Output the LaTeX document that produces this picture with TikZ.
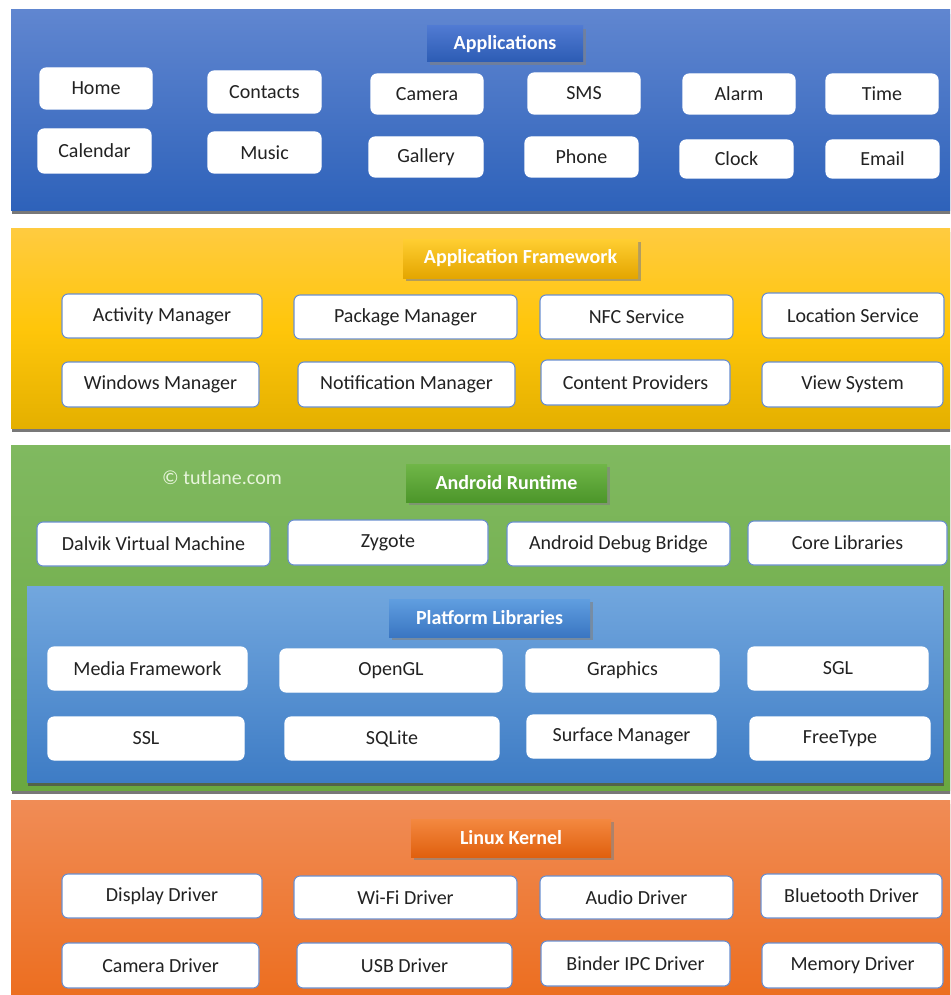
\documentclass[tikz,border=0pt]{standalone}
\usepackage{fontspec}
\setmainfont{Carlito}
\usetikzlibrary{shadows}
\definecolor{bdr}{HTML}{6A8FD0}
\definecolor{txt}{HTML}{222222}
\tikzset{
  wbox/.style={draw=bdr, line width=1.1pt, fill=white, rounded corners=6pt, inner sep=0pt, font=\fontsize{20}{23}\selectfont, text=txt},
  nbox/.style={wbox, draw=white},
  sect/.style={draw=none, drop shadow={opacity=0.75, fill=black!70, shadow xshift=1pt, shadow yshift=-4pt}},
  ttl/.style={draw=none, inner sep=0pt, text=white, font=\fontsize{20}{23}\selectfont\bfseries, drop shadow={opacity=0.6, shadow xshift=3pt, shadow yshift=-3pt}}
}
\newcommand\abox[7][wbox]{\node[#1,minimum width={(#5-#3)*1pt},minimum height={(#6-#4)*1pt}] (#2) at ({(#3+#5)/2},{(#4+#6)/2}) {#7};}
\newcommand\attl[8]{\node[ttl,top color=#7,bottom color=#8,minimum width={(#4-#2)*1pt},minimum height={(#5-#3)*1pt}] (#1) at ({(#2+#4)/2},{(#3+#5)/2}) {#6};}
\begin{document}
\begin{tikzpicture}[x=1pt,y=-1pt]
\clip (0,0) rectangle (950,995);
\fill[white] (0,0) rectangle (950,995);
% ---------- Applications
\shade[sect, top color={rgb,255:red,96;green,134;blue,208}, bottom color={rgb,255:red,46;green,98;blue,186}] (11,10) rectangle (960,210);
\attl{tapp}{427}{26}{583}{62}{Applications}{{rgb,255:red,80;green,122;blue,210}}{{rgb,255:red,44;green,92;blue,180}}
\abox[nbox]{home}{40}{68}{152}{109}{Home}
\abox[nbox]{contacts}{208}{71}{321}{113}{Contacts}
\abox[nbox]{camera}{371}{74}{483}{114}{Camera}
\abox[nbox]{sms}{528}{73}{640}{114}{SMS}
\abox[nbox]{alarm}{683}{74}{795}{114}{Alarm}
\abox[nbox]{time}{826}{74}{938}{114}{Time}
\abox[nbox]{calendar}{38}{129}{151}{173}{Calendar}
\abox[nbox]{music}{208}{132}{321}{173}{Music}
\abox[nbox]{gallery}{369}{137}{483}{177}{Gallery}
\abox[nbox]{phone}{525}{137}{638}{177}{Phone}
\abox[nbox]{clock}{680}{140}{793}{178}{Clock}
\abox[nbox]{email}{826}{140}{939}{178}{Email}
% ---------- Application Framework
\shade[sect, top color={rgb,255:red,255;green,203;blue,64}, bottom color={rgb,255:red,228;green,176;blue,0}, middle color={rgb,255:red,255;green,198;blue,10}] (11,228) rectangle (960,428);
\attl{tfw}{403}{239}{638}{278}{Application Framework}{{rgb,255:red,255;green,206;blue,50}}{{rgb,255:red,228;green,166;blue,0}}
\abox{am}{62}{294}{262}{338}{Activity Manager}
\abox{pm}{294}{295}{517}{339}{Package Manager}
\abox{nfc}{540}{295}{733}{339}{NFC Service}
\abox{ls}{762}{293}{944}{338}{Location Service}
\abox{wm}{62}{362}{259}{407}{Windows Manager}
\abox{nm}{298}{362}{515}{407}{Notification Manager}
\abox{cp}{541}{360}{730}{405}{Content Providers}
\abox{vs}{762}{362}{943}{407}{View System}
% ---------- Android Runtime
\shade[sect, top color={rgb,255:red,128;green,185;blue,96}, bottom color={rgb,255:red,106;green,168;blue,64}] (11,445) rectangle (960,790);
\node[text={rgb,255:red,232;green,245;blue,220}, font=\fontsize{20}{23}\selectfont, inner sep=0pt] (copy) at (222,478) {© tutlane.com};
\attl{tar}{406}{464}{607}{502}{Android Runtime}{{rgb,255:red,112;green,182;blue,72}}{{rgb,255:red,76;green,150;blue,42}}
\abox{dvm}{37}{522}{270}{566}{Dalvik Virtual Machine}
\abox{zyg}{288}{520}{488}{565}{Zygote}
\abox{adb}{507}{522}{730}{566}{Android Debug Bridge}
\abox{core}{748}{521}{947}{565}{Core Libraries}
% Platform libraries
\shade[sect, top color={rgb,255:red,114;green,167;blue,222}, bottom color={rgb,255:red,62;green,124;blue,197}] (27,586) rectangle (943,782);
\attl{tpl}{389}{599}{590}{637}{Platform Libraries}{{rgb,255:red,96;green,158;blue,224}}{{rgb,255:red,58;green,118;blue,194}}
\abox[nbox]{media}{48}{647}{247}{690}{Media Framework}
\abox[nbox]{ogl}{280}{649}{502}{692}{OpenGL}
\abox[nbox]{gfx}{526}{649}{719}{692}{Graphics}
\abox[nbox]{sgl}{748}{647}{928}{690}{SGL}
\abox[nbox]{ssl}{48}{717}{244}{760}{SSL}
\abox[nbox]{sqlite}{285}{717}{499}{760}{SQLite}
\abox[nbox]{surf}{527}{715}{716}{758}{Surface Manager}
\abox[nbox]{ft}{750}{717}{930}{760}{FreeType}
% ---------- Linux Kernel
\shade[sect, top color={rgb,255:red,240;green,140;blue,86}, bottom color={rgb,255:red,236;green,108;blue,28}] (11,800) rectangle (960,1010);
\attl{tlk}{411}{819}{611}{857}{Linux Kernel}{{rgb,255:red,243;green,136;blue,64}}{{rgb,255:red,224;green,96;blue,14}}
\abox{dd}{62}{874}{262}{918}{Display Driver}
\abox{wifi}{294}{876}{517}{919}{Wi-Fi Driver}
\abox{audio}{540}{876}{733}{919}{Audio Driver}
\abox{bt}{761}{874}{942}{918}{Bluetooth Driver}
\abox{camd}{62}{943}{259}{988}{Camera Driver}
\abox{usb}{297}{943}{512}{988}{USB Driver}
\abox{binder}{541}{941}{730}{986}{Binder IPC Driver}
\abox{mem}{762}{943}{943}{988}{Memory Driver}
\end{tikzpicture}
\end{document}
